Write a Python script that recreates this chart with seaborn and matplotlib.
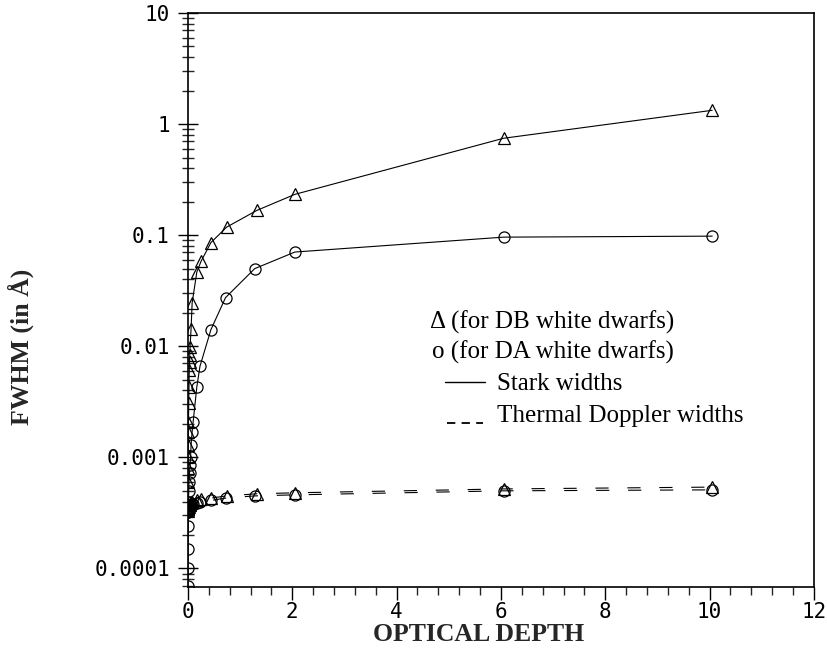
import numpy as np
import pandas as pd
import seaborn as sns
import matplotlib.pyplot as plt
from matplotlib.ticker import MultipleLocator, LogLocator, FuncFormatter, NullFormatter

# optical depth grid and widths (in Angstrom)
db_tau = [0, 0.002, 0.004, 0.006, 0.008, 0.01, 0.015, 0.02, 0.025, 0.03, 0.035,
          0.04, 0.06, 0.08, 0.17, 0.25, 0.44, 0.74, 1.32, 2.05, 6.05, 10.05]
db_stark = [0.0006, 0.0008, 0.001, 0.0013, 0.0017, 0.0021, 0.0031, 0.0043, 0.0061, 0.0072, 0.0084,
            0.0098, 0.0144, 0.0245, 0.0466, 0.058, 0.0857, 0.118, 0.167, 0.233, 0.745, 1.33]
db_doppler = [0.00033, 0.00034, 0.00034, 0.00035, 0.00035, 0.00036, 0.00036, 0.00037, 0.00037, 0.00037, 0.00038,
              0.00038, 0.00039, 0.0004, 0.00041, 0.00042, 0.00043, 0.00045, 0.00047, 0.00048, 0.00052, 0.00054]

da_tau = [0, 0.002, 0.004, 0.006, 0.008, 0.01, 0.015, 0.02, 0.03, 0.04, 0.05,
          0.06, 0.08, 0.1, 0.17, 0.23, 0.44, 0.72, 1.28, 2.05, 6.05, 10.05]
da_stark = [0.00007, 0.0001, 0.00015, 0.00024, 0.00035, 0.0004, 0.0005, 0.0006, 0.00072, 0.00085, 0.001,
            0.0013, 0.0017, 0.0021, 0.0043, 0.0066, 0.0141, 0.0274, 0.050, 0.0705, 0.096, 0.098]
da_doppler = [0.00032, 0.00032, 0.00033, 0.00033, 0.00034, 0.00034, 0.00035, 0.00035, 0.00036, 0.00036, 0.00037,
              0.00037, 0.00038, 0.00038, 0.00039, 0.000395, 0.00041, 0.00043, 0.00045, 0.00046, 0.0005, 0.00051]

yticks = [0.0001, 0.001, 0.01, 0.1, 1, 10]

df = pd.concat([
    pd.DataFrame({'tau': db_tau, 'fwhm': db_stark, 'series': 'DB Stark'}),
    pd.DataFrame({'tau': da_tau, 'fwhm': da_stark, 'series': 'DA Stark'}),
    pd.DataFrame({'tau': db_tau, 'fwhm': db_doppler, 'series': 'DB Doppler'}),
    pd.DataFrame({'tau': da_tau, 'fwhm': da_doppler, 'series': 'DA Doppler'}),
], ignore_index=True)

sns.set_theme(style='white')
plt.rcParams['font.family'] = ['DejaVu Sans Mono']
plt.rcParams['lines.scale_dashes'] = False

fig = plt.figure(figsize=(8.28, 6.48), dpi=100)
ax = fig.add_axes([0.227, 0.094, 0.756, 0.886])

sns.lineplot(data=df, x='tau', y='fwhm', style='series',
             markers={'DB Stark': '^', 'DA Stark': 'o', 'DB Doppler': '^', 'DA Doppler': 'o'},
             dashes={'DB Stark': '', 'DA Stark': '', 'DB Doppler': (9.5, 13.5), 'DA Doppler': (9.5, 13.5)},
             color='black', lw=0.8, markersize=8, mfc='none', mec='black', mew=0.9,
             estimator=None, sort=False, legend=False, ax=ax)

ax.set_yscale('log')
ax.set_xlim(0, 12)
ax.set_ylim(6.8e-5, 10)

ax.xaxis.set_major_locator(MultipleLocator(2))
ax.xaxis.set_minor_locator(MultipleLocator(0.4))
ax.set_yticks(yticks)
ax.yaxis.set_major_formatter(FuncFormatter(lambda v, _: f'{v:g}'))
ax.yaxis.set_minor_locator(LogLocator(base=10, subs=np.arange(2, 10)))
ax.yaxis.set_minor_formatter(NullFormatter())

ax.tick_params(axis='x', which='major', direction='out', length=9, width=1, pad=2, labelsize=15,
               bottom=True, top=False, colors='black')
ax.tick_params(axis='x', which='minor', direction='out', length=6, width=1, bottom=True, top=False)
ax.tick_params(axis='y', which='major', direction='inout', length=14, width=1, pad=6, labelsize=15,
               left=True, right=False, colors='black')
ax.tick_params(axis='y', which='minor', direction='inout', length=8, width=1, left=True, right=False)

for s in ax.spines.values():
    s.set_color('black')
    s.set_linewidth(1.2)

ax.set_xlabel('OPTICAL DEPTH', family='Liberation Serif', fontweight='bold', fontsize=18.5)
ax.set_ylabel('FWHM (in Å)', family='Liberation Serif', fontweight='bold', fontsize=18.5, va='center')
ax.xaxis.set_label_coords(0.465, -0.063)
ax.yaxis.set_label_coords(-0.267, 0.418)

# legend drawn as plain text, like the original
txt = dict(transform=ax.transAxes, family='Liberation Serif', fontsize=18, va='center', color='black')
ax.text(0.387, 0.461, 'Δ (for DB white dwarfs)', **txt)
ax.text(0.390, 0.409, 'o (for DA white dwarfs)', **txt)
ax.text(0.494, 0.353, 'Stark widths', **txt)
ax.text(0.494, 0.298, 'Thermal Doppler widths', **txt)
ax.plot([0.410, 0.474], [0.357, 0.357], transform=ax.transAxes, color='black', lw=1)
ax.plot([0.414, 0.472], [0.286, 0.286], transform=ax.transAxes, color='black', lw=1.3,
        dashes=(6, 4.5))

ax.grid(False)
fig.savefig('out.png', dpi=100)
